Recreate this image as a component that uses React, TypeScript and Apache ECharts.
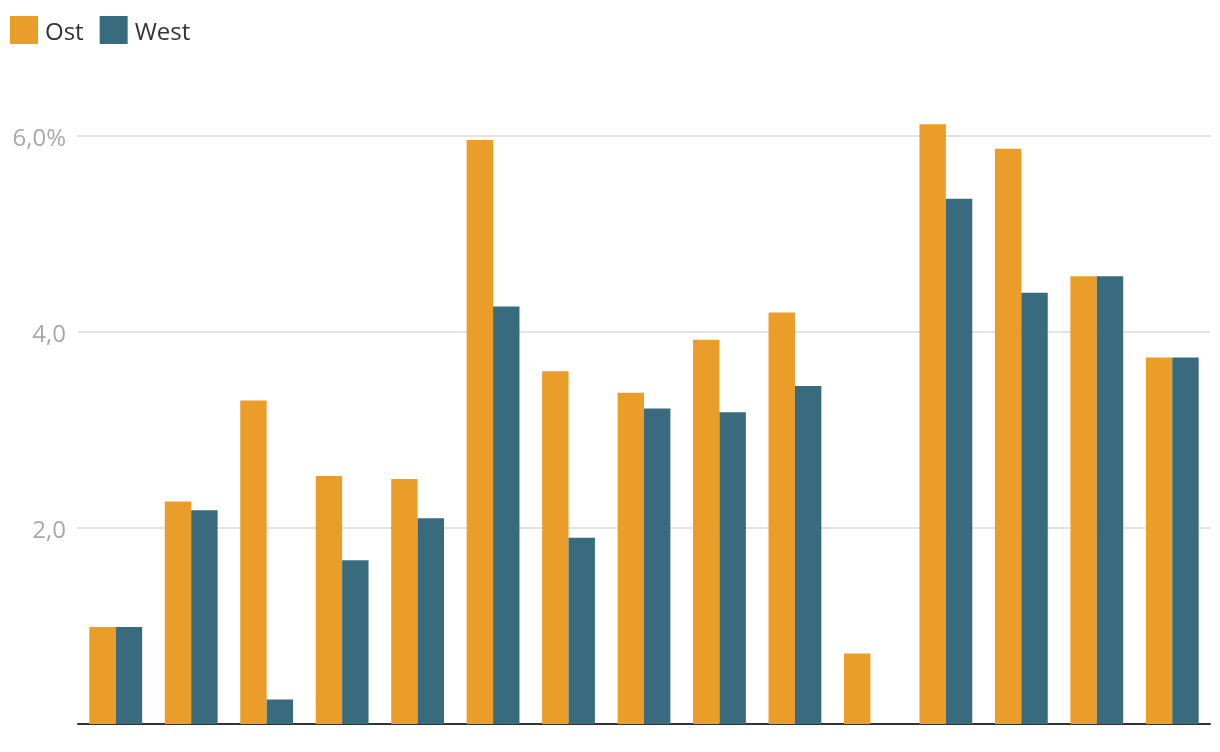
import React, { useEffect, useRef } from "react";
import * as echarts from "echarts";

const categories = ["1", "2", "3", "4", "5", "6", "7", "8", "9", "10", "11", "12", "13", "14", "15"];
const ostValues = [0.99, 2.27, 3.3, 2.53, 2.5, 5.96, 3.6, 3.38, 3.92, 4.2, 0.72, 6.12, 5.87, 4.57, 3.74];
const westValues = [0.99, 2.18, 0.25, 1.67, 2.1, 4.26, 1.9, 3.22, 3.18, 3.45, 0, 5.36, 4.4, 4.57, 3.74];
const yTickLabels: Record<number, string> = { 2: "2,0", 4: "4,0", 6: "6,0%" };

const FONT = "'Open Sans', 'Noto Sans', sans-serif";

export default function App() {
  const ref = useRef<HTMLDivElement>(null);
  useEffect(() => {
    if (!ref.current) return;
    const chart = echarts.init(ref.current, undefined, { renderer: "svg" });
    chart.setOption({
      animation: false,
      textStyle: { fontFamily: FONT },
      legend: {
        left: 10,
        top: 16,
        itemWidth: 28,
        itemHeight: 28,
        itemGap: 16,
        padding: 0,
        icon: "rect",
        textStyle: { fontSize: 24, color: "#333", fontFamily: FONT, padding: [0, 0, 0, 2] },
        data: ["Ost", "West"],
      },
      grid: { left: 78, right: 10, top: 87, bottom: 28, containLabel: false },
      xAxis: {
        type: "category",
        data: categories,
        axisLine: { show: true, lineStyle: { color: "#333", width: 2 } },
        axisTick: { show: false },
        axisLabel: { show: false },
      },
      yAxis: {
        type: "value",
        min: 0,
        max: 6.5,
        interval: 2,
        axisLine: { show: false },
        axisTick: { show: false },
        splitLine: { show: true, showMinLine: false, showMaxLine: false, lineStyle: { color: "#e3e3e3", width: 2 } },
        axisLabel: {
          margin: 12,
          fontSize: 24,
          color: "#a8a8a8",
          fontFamily: FONT,
          showMaxLabel: false,
          formatter: (v: number) => yTickLabels[v] ?? "",
        },
      },
      series: [
        {
          name: "Ost",
          type: "bar",
          data: ostValues,
          itemStyle: { color: "#EA9E29" },
          barGap: "0%",
          barCategoryGap: "30%",
        },
        {
          name: "West",
          type: "bar",
          data: westValues,
          itemStyle: { color: "#396B7E" },
          barGap: "0%",
          barCategoryGap: "30%",
        },
      ],
    });
    return () => chart.dispose();
  }, []);
  return (
    <div
      ref={ref}
      style={{ position: "fixed", left: 0, top: 0, width: 1220, height: 752 }}
    />
  );
}
